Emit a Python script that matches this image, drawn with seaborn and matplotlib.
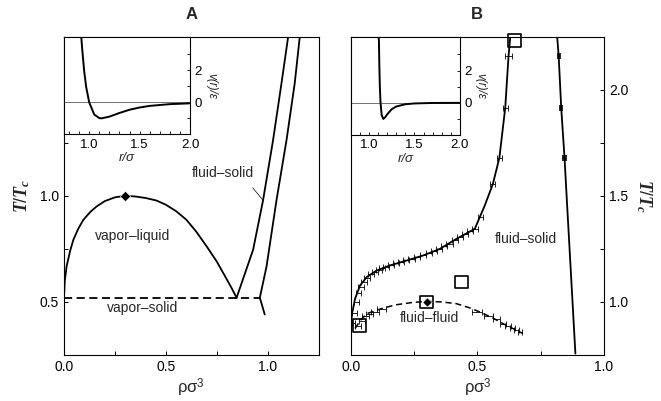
import numpy as np
import pandas as pd
import matplotlib
matplotlib.use("Agg")
import matplotlib.pyplot as plt
import seaborn as sns

# ---------------- data ----------------
# Panel A : vapor-liquid binodal
vl_x = [0.0, 0.004, 0.013, 0.03, 0.046, 0.07, 0.095, 0.13, 0.16, 0.20, 0.25, 0.30,
        0.35, 0.40, 0.454, 0.50, 0.55, 0.601, 0.65, 0.70, 0.75, 0.781, 0.82, 0.847]
vl_y = [0.52, 0.60, 0.668, 0.74, 0.793, 0.845, 0.887, 0.925, 0.95, 0.975, 0.993, 1.0,
        0.997, 0.99, 0.978, 0.958, 0.928, 0.887, 0.83, 0.762, 0.69, 0.637, 0.57, 0.52]
# Panel A : fluid branch of fluid-solid coexistence
fsA_fluid_x = [0.847, 0.928, 0.977, 1.026, 1.067, 1.10]
fsA_fluid_y = [0.52, 0.746, 0.98, 1.263, 1.529, 1.75]
# Panel A : solid branch
fsA_solid_x = [0.985, 0.961, 0.994, 1.043, 1.092, 1.132, 1.157]
fsA_solid_y = [0.441, 0.52, 0.668, 0.981, 1.263, 1.529, 1.75]
# Panel A : triple line (vapor-solid)
triple_x = [0.0, 0.961]
triple_y = [0.52, 0.52]
critA = (0.30, 1.0)

# Inset A : pair potential
potA_r = [0.92, 0.93, 0.95, 0.97, 1.0, 1.05, 1.1, 1.12, 1.2, 1.3, 1.4, 1.5, 1.6, 1.8, 2.0]
potA_v = [4.2, 3.37, 1.96, 0.96, 0.0, -0.76, -0.98, -1.0, -0.89, -0.66, -0.46, -0.32,
          -0.22, -0.11, -0.06]
# Inset B : short-range pair potential
potB_r = [1.105, 1.11, 1.115, 1.12, 1.127, 1.14, 1.158, 1.18, 1.2, 1.25, 1.3, 1.4, 1.5,
          1.7, 2.0]
potB_v = [4.2, 3.83, 2.17, 1.04, 0.06, -0.76, -1.0, -0.89, -0.72, -0.40, -0.23, -0.09,
          -0.04, -0.01, -0.003]

# Panel B : fluid branch of fluid-solid (line)
fsB_fluid_x = [0.0, 0.004, 0.017, 0.037, 0.063, 0.102, 0.155, 0.22, 0.286, 0.352, 0.417,
               0.483, 0.49, 0.529, 0.561, 0.587, 0.61, 0.623, 0.63]
fsB_fluid_y = [0.80, 0.937, 1.015, 1.078, 1.117, 1.148, 1.172, 1.195, 1.219, 1.25, 1.297,
               1.34, 1.345, 1.454, 1.555, 1.68, 1.915, 2.158, 2.25]
# Panel B : solid branch
fsB_solid_x = [0.815, 0.821, 0.831, 0.844, 0.853, 0.887]
fsB_solid_y = [2.25, 2.158, 1.915, 1.68, 1.485, 0.757]
# Panel B : fluid-fluid (metastable) binodal
ff_x = [0.017, 0.04, 0.063, 0.089, 0.13, 0.181, 0.24, 0.299, 0.36, 0.417, 0.47, 0.509,
        0.56, 0.601, 0.64, 0.68]
ff_y = [0.875, 0.915, 0.945, 0.955, 0.972, 0.987, 0.997, 1.003, 1.0, 0.992, 0.972, 0.953,
        0.925, 0.898, 0.875, 0.851]
# Panel B : simulation points with error bars (fluid branch)
eb_fl_x = [0.010, 0.015, 0.022, 0.030, 0.040, 0.052, 0.065, 0.080, 0.095, 0.110, 0.125,
           0.140, 0.160, 0.180, 0.200, 0.220, 0.240, 0.260, 0.285, 0.310, 0.330, 0.350,
           0.370, 0.390, 0.410, 0.430, 0.450, 0.470, 0.490, 0.512, 0.561, 0.587, 0.610,
           0.623]
eb_fl_y = [0.90, 0.95, 1.00, 1.04, 1.07, 1.095, 1.115, 1.13, 1.143, 1.152, 1.160, 1.166,
           1.174, 1.182, 1.189, 1.196, 1.203, 1.210, 1.219, 1.229, 1.240, 1.250, 1.262,
           1.275, 1.290, 1.305, 1.318, 1.333, 1.345, 1.40, 1.555, 1.68, 1.915, 2.158]
eb_fl_e = [0.006, 0.008, 0.010, 0.010, 0.012, 0.012, 0.012, 0.012, 0.012, 0.012, 0.012,
           0.012, 0.012, 0.012, 0.012, 0.012, 0.012, 0.012, 0.012, 0.012, 0.012, 0.012,
           0.012, 0.012, 0.012, 0.012, 0.012, 0.012, 0.012, 0.010, 0.010, 0.010, 0.010,
           0.012]
# solid branch points
eb_so_x = [0.821, 0.831, 0.844]
eb_so_y = [2.158, 1.915, 1.68]
eb_so_e = [0.004, 0.004, 0.004]
# fluid-fluid points
eb_ff_x = [0.030, 0.045, 0.060, 0.075, 0.095, 0.12, 0.50, 0.545, 0.575, 0.60, 0.62, 0.64,
           0.655, 0.67]
eb_ff_y = [0.885, 0.91, 0.935, 0.945, 0.955, 0.965, 0.955, 0.935, 0.918, 0.898, 0.888,
           0.875, 0.866, 0.858]
eb_ff_e = [0.012, 0.012, 0.014, 0.014, 0.016, 0.018, 0.020, 0.018, 0.015, 0.012, 0.012,
           0.010, 0.010, 0.008]
# Panel B : open squares (other estimates)
sq_x = [0.034, 0.30, 0.437, 0.647]
sq_y = [0.89, 1.0, 1.094, 2.233]
critB = (0.30, 1.0)

# ---------------- style ----------------
sns.set_style("ticks")
plt.rcParams['font.family'] = ['Liberation Sans', 'DejaVu Sans']
plt.rcParams['mathtext.fontset'] = 'custom'
plt.rcParams['mathtext.it'] = 'Liberation Serif:italic:bold'
plt.rcParams['mathtext.rm'] = 'Liberation Sans'
plt.rcParams['axes.linewidth'] = 0.8
plt.rcParams['axes.edgecolor'] = 'black'

fig = plt.figure(figsize=(6.61, 4.01), dpi=100)
axA = fig.add_axes([0.0968, 0.1147, 0.3854, 0.7938])
axB = fig.add_axes([0.5306, 0.1147, 0.3832, 0.7938])

LW = 1.3
K = 'black'

def line(ax, xs, ys, **kw):
    df = pd.DataFrame({'x': xs, 'y': ys})
    sns.lineplot(data=df, x='x', y='y', sort=False, estimator=None, ax=ax,
                 color=K, **kw)

# ---------- Panel A ----------
line(axA, vl_x, vl_y, linewidth=LW)
line(axA, fsA_fluid_x, fsA_fluid_y, linewidth=LW)
line(axA, fsA_solid_x, fsA_solid_y, linewidth=LW)
line(axA, triple_x, triple_y, linewidth=LW, linestyle=(0, (4.5, 2.5)))
sns.scatterplot(x=[critA[0]], y=[critA[1]], marker='D', s=28, color=K, ax=axA, zorder=5)

axA.set_xlim(0, 1.25)
axA.set_ylim(0.25, 1.75)
axA.set_xticks([0.0, 0.5, 1.0])
axA.set_xticks([0.25, 0.75, 1.25], minor=True)
axA.set_yticks([0.5, 1.0])
axA.set_yticks([0.75, 1.25], minor=True)
axA.tick_params(which='both', direction='in', length=3, width=0.7, labelsize=10,
                colors=K)
axA.set_xlabel('ρσ$^3$', fontsize=12, labelpad=2)
axA.set_ylabel('$T/T_c$', fontsize=13, labelpad=6)
axA.set_title('A', fontweight='bold', fontsize=12, pad=13)

axA.text(0.338, 0.812, 'vapor–liquid', ha='center', va='center', fontsize=10)
axA.text(0.387, 0.47, 'vapor–solid', ha='center', va='center', fontsize=10)
axA.text(0.78, 1.108, 'fluid–solid', ha='center', va='center', fontsize=10)
axA.annotate('', xy=(0.975, 0.981), xytext=(0.926, 1.038),
             arrowprops=dict(arrowstyle='-', color=K, lw=0.5, shrinkA=0, shrinkB=0))

# ---------- Panel B ----------
line(axB, fsB_fluid_x, fsB_fluid_y, linewidth=LW)
line(axB, fsB_solid_x, fsB_solid_y, linewidth=LW)
line(axB, ff_x, ff_y, linewidth=1.1, linestyle=(0, (4, 2.5)))
axB.errorbar(eb_fl_x, eb_fl_y, xerr=eb_fl_e, fmt='none', ecolor=K, elinewidth=0.6,
             capsize=2.2, capthick=0.6)
axB.errorbar(eb_so_x, eb_so_y, xerr=eb_so_e, fmt='none', ecolor=K, elinewidth=1.2,
             capsize=2.2, capthick=1.2)
axB.errorbar(eb_ff_x, eb_ff_y, xerr=eb_ff_e, fmt='none', ecolor=K, elinewidth=0.6,
             capsize=2.2, capthick=0.6)
sns.scatterplot(x=sq_x, y=sq_y, marker='s', s=85, facecolor='none', edgecolor=K,
                linewidth=1.2, ax=axB, zorder=6, clip_on=False)
sns.scatterplot(x=[critB[0]], y=[critB[1]], marker='D', s=22, color=K, ax=axB, zorder=7)

axB.set_xlim(0, 1.0)
axB.set_ylim(0.75, 2.25)
axB.set_xticks([0.0, 0.5, 1.0])
axB.set_xticks([0.25, 0.75], minor=True)
axB.set_yticks([1.0, 1.5, 2.0])
axB.set_yticks([1.25, 1.75], minor=True)
axB.yaxis.tick_right()
axB.yaxis.set_label_position('right')
axB.tick_params(which='both', direction='in', length=3, width=0.7, labelsize=10,
                colors=K)
axB.set_xlabel('ρσ$^3$', fontsize=12, labelpad=2)
axB.set_ylabel('$T/T_c$', fontsize=13, rotation=-90, labelpad=18)
axB.set_title('B', fontweight='bold', fontsize=12, pad=13)
axB.text(0.693, 1.297, 'fluid–solid', ha='center', va='center', fontsize=10)
axB.text(0.312, 0.925, 'fluid–fluid', ha='center', va='center', fontsize=10)

for ax in (axA, axB):
    ax.set_facecolor('white')
    for s in ax.spines.values():
        s.set_color(K)
        s.set_linewidth(0.8)

# ---------- Insets ----------
def inset(ax, rect, r, v, xlo):
    ins = ax.inset_axes(rect)
    ins.set_facecolor('white')
    ins.set_zorder(10)
    ins.axhline(0, color='0.35', lw=0.6)
    line(ins, r, v, linewidth=1.4)
    ins.set_xlim(xlo, 2.0)
    ins.set_ylim(-2.0, 4.1)
    ins.set_xticks([1.0, 1.5, 2.0])
    ins.set_xticks(np.arange(0.8, 2.0, 0.1), minor=True)
    ins.set_yticks([0, 2])
    ins.set_yticks([-1, 1, 3], minor=True)
    ins.yaxis.tick_right()
    ins.yaxis.set_label_position('right')
    ins.tick_params(which='both', direction='in', length=2.5, width=0.6,
                    labelsize=9.5, pad=3, colors=K)
    ins.set_xlabel('r/σ', fontsize=9.5, style='italic', labelpad=1)
    ins.set_ylabel('v(r)/ε', fontsize=8.5, style='italic', rotation=-90, labelpad=11)
    for s in ins.spines.values():
        s.set_color(K)
        s.set_linewidth(0.8)
    return ins

inset(axA, [0.0, 0.693, 0.495, 0.307], potA_r, potA_v, 0.75)
inset(axB, [0.0, 0.691, 0.431, 0.309], potB_r, potB_v, 0.92)

fig.savefig('out.png', dpi=100)
